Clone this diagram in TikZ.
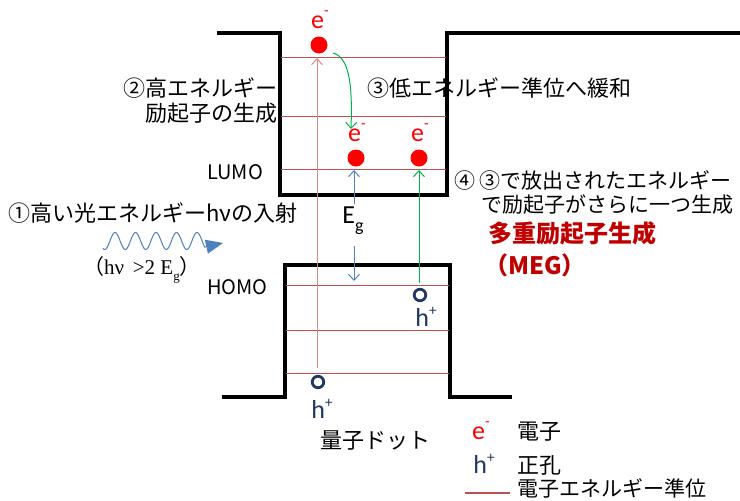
\documentclass[tikz,border=0pt]{standalone}
\usepackage{fontspec}
\setmainfont{Noto Sans CJK JP}
\newfontfamily\lat{Carlito}
\newfontfamily\ser{Liberation Serif}
\usetikzlibrary{arrows.meta}
\definecolor{lvl}{HTML}{C0504D}
\definecolor{pinkr}{HTML}{D88A8A}
\definecolor{bl}{HTML}{4F81BD}
\definecolor{gr}{HTML}{00B050}
\definecolor{nv}{HTML}{1F3864}
\definecolor{dr}{HTML}{C00000}
\newcommand{\jp}{\fontsize{22}{26}\selectfont}
\newcommand{\elab}{{\lat\fontsize{26}{26}\selectfont e\raisebox{.5em}{\fontsize{15}{15}\selectfont -}}}
\newcommand{\hlab}{{\lat\fontsize{26}{26}\selectfont h\raisebox{.45em}{\fontsize{15}{15}\selectfont +}}}
\begin{document}
\begin{tikzpicture}[x=1pt,y=-1pt,
  well/.style={line width=3.4pt,line join=miter},
  level/.style={lvl,line width=1pt},
  elec/.style={circle,fill=red,inner sep=0pt,minimum size=17pt},
  hole/.style={circle,draw=nv,line width=2.8pt,inner sep=0pt,minimum size=11.5pt},
  txt/.style={inner sep=0pt,font=\jp},
  barb/.style={-{Straight Barb[length=6pt,width=11pt]},line width=1pt}]
\path[use as bounding box] (0,0) rectangle (740,501);
% wells
\draw[well] (217,33) -- (280,33) -- (280,195) -- (447,195) -- (447,33) -- (740,33);
\draw[well] (222,397) -- (285,397) -- (285,265) -- (450,265) -- (450,397) -- (512,397);
% levels
\foreach \y in {57,116,169} \draw[level] (281,\y) -- (446,\y);
\foreach \y in {285,330,373} \draw[level] (286,\y) -- (449,\y);
% particles
\node[elec] (e1) at (319,45) {};
\node[elec] (e2) at (356,158) {};
\node[elec] (e3) at (419,158) {};
\node[txt,red] (le1) at (320,20) {\elab};
\node[txt,red] (le2) at (357,133) {\elab};
\node[txt,red] (le3) at (420,133) {\elab};
\node[hole] (h1) at (318,382) {};
\node[hole] (h2) at (420,295) {};
\node[txt,nv] (lh1) at (322,409) {\hlab};
\node[txt,nv] (lh2) at (426,317) {\hlab};
% arrows
\coordinate (pa) at (317,368);
\coordinate (pb) at (317,58);
\draw[barb,pinkr] (pa) -- (pb);
\node[txt] (eg) at (353,221) {\lat\fontsize{26}{26}\selectfont E\raisebox{-.3em}{\fontsize{18}{18}\selectfont g}};
\coordinate (lumoB) at (354,170);
\coordinate (homoB) at (354,281);
\draw[barb,bl] (354,204) -- (lumoB);
\draw[barb,bl] (354,246) -- (homoB);
\coordinate (g1) at (419,283);
\coordinate (g2) at (419,170);
\draw[barb,gr] (g1) -- (g2);
\coordinate (c1) at (333,53);
\coordinate (c2) at (351,129);
\draw[barb,gr] (c1) .. controls (352,58) and (352,95) .. (c2);
% photon wave
\draw[bl,line width=1pt] plot[domain=103:205,samples=160] (\x,{241-8.5*sin((\x-103)*17.56-121)});
\coordinate (w1) at (205,247);
\coordinate (w2) at (223,243);
\draw[bl,line width=1pt,-{Triangle[length=17pt,width=14pt]}] (w1) -- (w2);
% texts
\node[txt,anchor=east] (t2a) at (278,88) {②高エネルギー};
\node[txt,anchor=east] (t2b) at (278,113) {励起子の生成};
\node[txt,anchor=west] (t3) at (367,88) {③低エネルギー準位へ緩和};
\node[txt,anchor=west,font=\fontsize{20}{22}\selectfont] (lumo) at (207,172) {LUMO};
\node[txt,anchor=west,font=\fontsize{20}{22}\selectfont] (homo) at (207,287) {HOMO};
\node[txt,anchor=west] (t1) at (8,213) {①高い光エネルギーhνの入射};
\node[txt] (t1b) at (142,270) {\fontsize{21}{24}\selectfont（{\ser hν \,>2 E\raisebox{-.3em}{\fontsize{13}{13}\selectfont g}}）};
\node[txt,anchor=west,font=\fontsize{21}{25}\selectfont] (t4a) at (454,180) {④ ③で放出されたエネルギー};
\node[txt,anchor=east,font=\fontsize{21}{25}\selectfont] (t4b) at (734,205) {で励起子がさらに一つ生成};
\node[txt,anchor=west,dr,font=\fontsize{24}{27}\selectfont\bfseries] (meg1) at (488,233) {多重励起子生成};
\node[txt,anchor=west,dr,font=\fontsize{24}{27}\selectfont\bfseries] (meg2) at (484,265) {（MEG）};
\node[txt] (qd) at (375,441) {量子ドット};
% legend
\node[txt,red] (lg1) at (481,431) {\elab};
\node[txt,anchor=west] (lg1t) at (517,432) {電子};
\node[txt,nv] (lg2) at (484,464) {\hlab};
\node[txt,anchor=west] (lg2t) at (517,465) {正孔};
\coordinate (ll1) at (465,493);
\coordinate (ll2) at (510,493);
\draw[lvl,line width=2pt] (ll1) -- (ll2);
\node[txt,anchor=west,font=\fontsize{21}{24}\selectfont] (lg3t) at (517,488) {電子エネルギー準位};
\end{tikzpicture}
\end{document}
